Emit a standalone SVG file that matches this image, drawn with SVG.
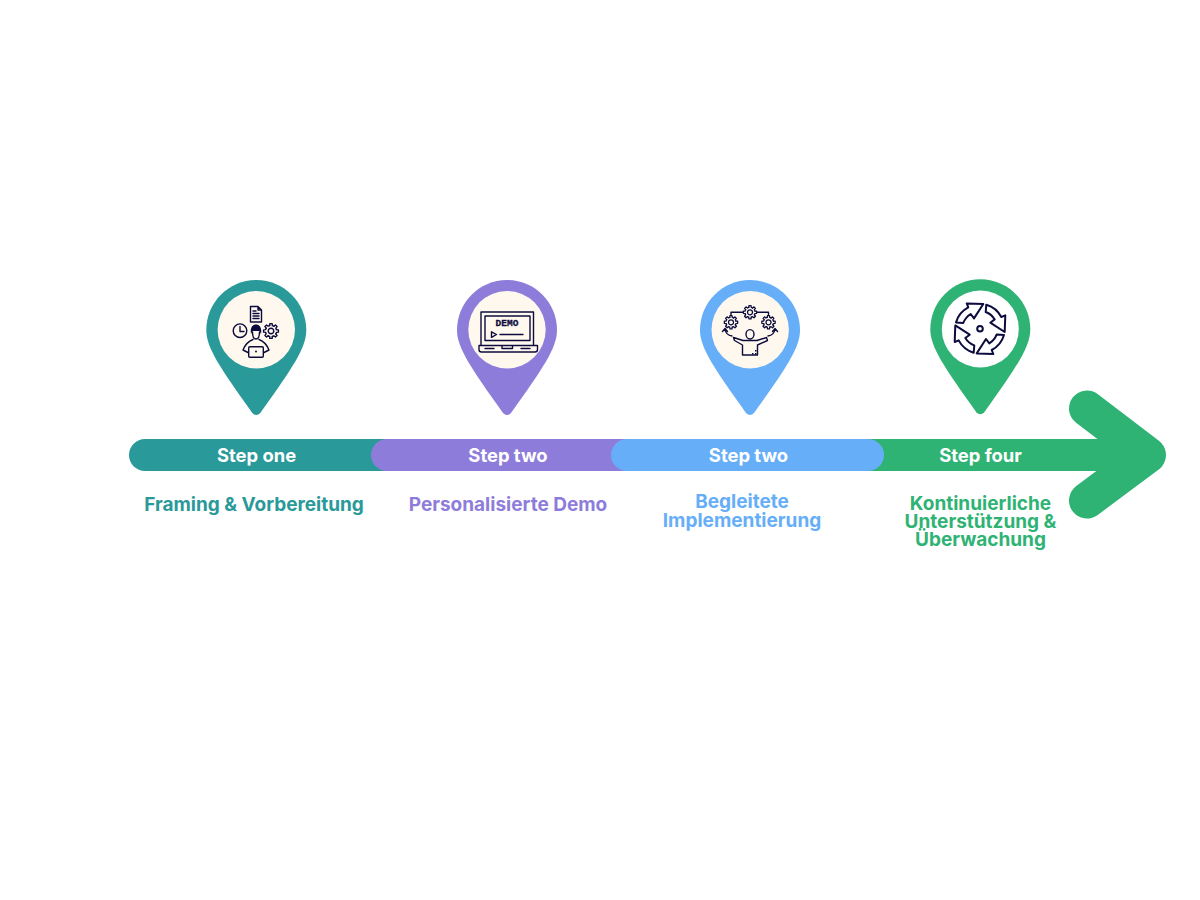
<svg xmlns="http://www.w3.org/2000/svg" width="1200" height="900" viewBox="0 0 1200 900">
<style>
.t{font-family:"Inter","Liberation Sans",sans-serif;font-weight:700;text-anchor:middle}
.s{font-size:18.4px;fill:#fff}
.l{font-size:19px}
.i{fill:none;stroke:#0c0c3c;stroke-width:1.4;stroke-linejoin:round;stroke-linecap:round}
.b{stroke-width:2}
.f{fill:#0c0c3c;stroke:none}
</style>
<defs>
<path id="pin" d="M0,-50C27.600,-50 50,-27.600 50,0C50,18 36,38 4,83Q0,87 -4,83C-36,38 -50,18 -50,0C-50,-27.600 -27.600,-50 0,-50Z"/>
<path id="tooth" class="i" d="M-1.350,-5.430L-1.170,-7.410H1.170L1.350,-5.430A5.600,5.600 0 0 1 2.880,-4.800"/>
<g id="gear">
<use href="#tooth"/><use href="#tooth" transform="rotate(45)"/><use href="#tooth" transform="rotate(90)"/><use href="#tooth" transform="rotate(135)"/><use href="#tooth" transform="rotate(180)"/><use href="#tooth" transform="rotate(225)"/><use href="#tooth" transform="rotate(270)"/><use href="#tooth" transform="rotate(315)"/>
<circle class="i" r="2.800"/>
</g>
<path id="arc" class="i b" d="M-11.700,-21.300L-13.300,-25.300L3.300,-24.700L-6,-10.300L-9.300,-14.700Q-14.500,-11.500 -16.700,-5.700L-24,-6.300Q-21,-16.500 -11.700,-21.300Z"/>
</defs>
<g id="connectors">
<path id="arrow-head" d="M1087,408.500L1148,455L1087,500.500" fill="none" stroke="#2fb374" stroke-width="36" stroke-linecap="round" stroke-linejoin="round"/>
<rect x="840" y="439" width="300" height="32" fill="#2fb374"/>
<rect x="129" y="439" width="275" height="32" rx="16" fill="#299999"/>
<rect x="371" y="439" width="270" height="32" rx="16" fill="#8e7cdb"/>
<rect x="611" y="439" width="273" height="32" rx="16" fill="#66aef7"/>
</g>
<g id="step1">
<use href="#pin" x="256.300" y="330" fill="#299999"/>
<circle cx="256.300" cy="329.700" r="38.700" fill="#fff8ef"/>
<path class="i" d="M250.500,306.500H258L261.500,310V322H250.500ZM258,306.500V310H261.500M253,311H256M253,313.500H259M253,316H259M253,318.500H259"/>
<circle class="i" cx="240" cy="330.700" r="6.800"/><path class="i" d="M240,326.500V331.500H244"/>
<use href="#gear" x="271" y="331"/>
<path class="f" d="M251,334C250,328 252,325 255,324.500H257C260,325 262,328 261,334L259.500,331H252.500Z"/>
<path class="i" d="M252.500,332C252.500,337 254.500,339 256,339C257.500,339 259.500,337 259.500,332M253,339.500C249,341 245,345 243,350L248,352.500M259,339.500C263,341 267,345 269,350L264,352.500"/>
<rect class="i" x="248.700" y="346.700" width="14.600" height="10.600" rx="1"/><circle class="f" cx="256" cy="351.500" r="1"/>
</g>
<g id="step2">
<use href="#pin" x="507" y="330" fill="#8e7cdb"/>
<circle cx="507" cy="329.700" r="38.700" fill="#fff8ef"/>
<path class="i" d="M481,345V312H533.500V345"/>
<rect class="i" x="485" y="316" width="45" height="24.500"/>
<path class="i" d="M479,345.500H537.500V349.500Q537.500,352 535,352H481.500Q479,352 479,349.500ZM502,345.500V348.500H512.500V345.500M485,348.500H494M521,348.500H530"/>
<text x="507" y="326.200" font-family="'Liberation Mono',monospace" font-size="9.500" font-weight="700" text-anchor="middle" fill="#0c0c3c" stroke="#0c0c3c" stroke-width="0.300">DEMO</text>
<path class="i" d="M491.500,331.800L496.500,334.500L491.500,337.300ZM500,334.500H523"/>
</g>
<g id="step3">
<use href="#pin" x="750" y="330" fill="#66aef7"/>
<circle cx="750.200" cy="329.700" r="38.700" fill="#fff8ef"/>
<use href="#gear" transform="translate(750,312.300) scale(.9)"/><use href="#gear" transform="translate(731,322.300) scale(.9)"/><use href="#gear" transform="translate(768.500,322.300) scale(.9)"/>
<path class="i" d="M731,314.500V312.300H742.500M757.500,312.300H768.500V314.500M732,336C728,335.500 725.500,332.500 725,329M722.500,331.500L725,328.500L727.500,331.500M768,336C772,335.500 774.500,332.500 775,329M772.500,331.500L775,328.500L777.500,331.500"/>
<ellipse class="i" cx="750" cy="334.300" rx="4" ry="4.700"/>
<path class="i" d="M733.500,337.500L743,340.500H757L766.500,337.500L767.500,340.500L757.500,345V355H742.500V345L734.500,340.500Z"/>
<path class="f" d="M752,353h1.500v1.500h-1.500zM755,353h1.500v1.500h-1.500zM755,350h1.500v1.500h-1.500z"/>
</g>
<g id="step4">
<use href="#pin" x="980.300" y="329.300" fill="#2fb374"/>
<circle cx="980.300" cy="329" r="38.500" fill="#fff"/>
<g transform="translate(980,328.700)">
<circle class="i b" r="2.800"/>
<use href="#arc"/><use href="#arc" transform="rotate(90)"/><use href="#arc" transform="rotate(180)"/><use href="#arc" transform="rotate(270)"/>
</g>
</g>
<g id="labels">
<text class="t s" x="256.500" y="461.700">Step one</text>
<text class="t s" x="508" y="461.700">Step two</text>
<text class="t s" x="748.500" y="461.700">Step two</text>
<text class="t s" x="980.500" y="461.700">Step four</text>
<text class="t l" x="254" y="511" fill="#299999">Framing &amp; Vorbereitung</text>
<text class="t l" x="508" y="511" fill="#8e7cdb">Personalisierte Demo</text>
<text class="t l" x="742" y="507.500" fill="#66aef7">Begleitete</text>
<text class="t l" x="742" y="526.500" fill="#66aef7">Implementierung</text>
<text class="t l" x="980.500" y="509.500" fill="#2fb374">Kontinuierliche</text>
<text class="t l" x="980.500" y="527.500" fill="#2fb374">Unterstützung &amp;</text>
<text class="t l" x="980.500" y="545.500" fill="#2fb374">Überwachung</text>
</g>
</svg>
